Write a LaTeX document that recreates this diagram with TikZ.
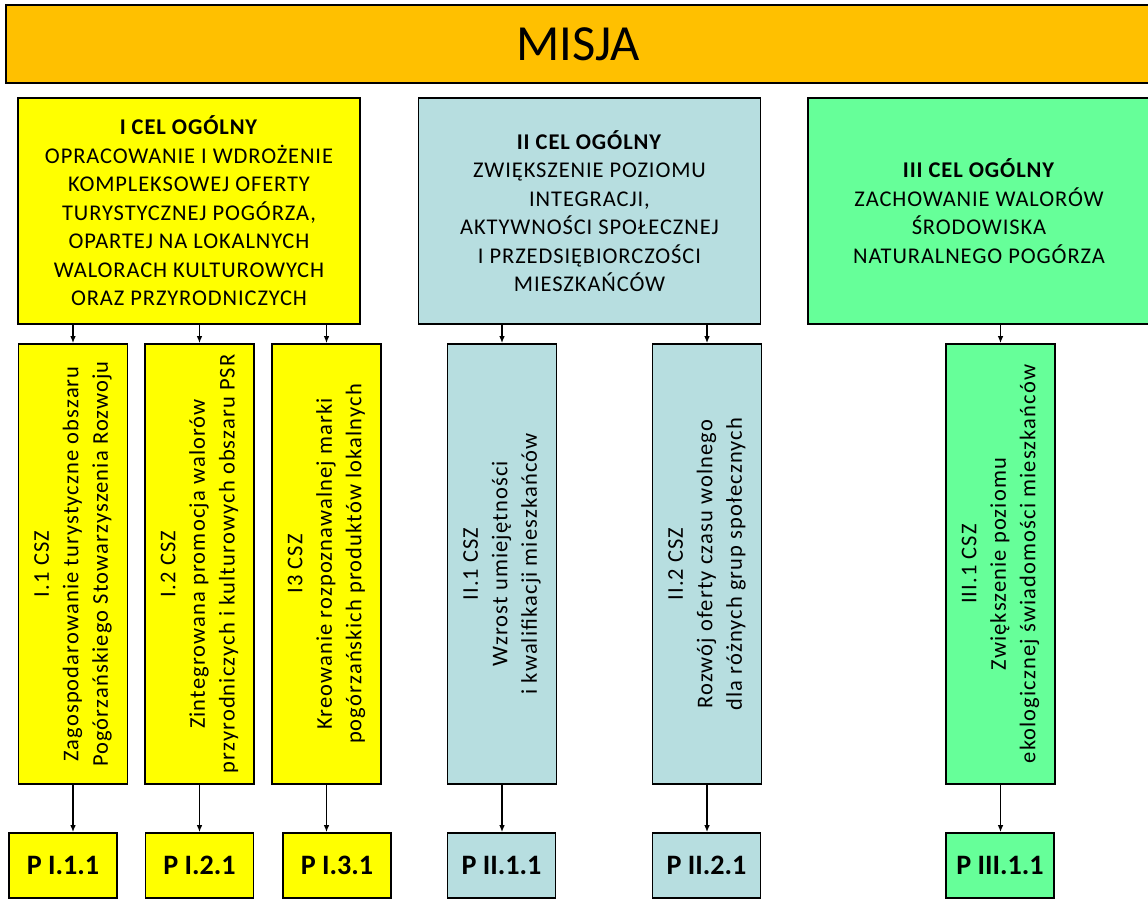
\documentclass[tikz,border=0pt]{standalone}
\usepackage{fontspec}
\setmainfont{Carlito}
\usetikzlibrary{positioning,arrows.meta}

\definecolor{misjaOrange}{HTML}{FFC000}
\definecolor{celYellow}{HTML}{FFFF00}
\definecolor{celBlue}{HTML}{B7DEE0}
\definecolor{celGreen}{HTML}{66FF99}

\begin{document}
\begin{tikzpicture}[
  box/.style={rectangle, draw=black, line width=1.2pt, inner sep=0pt, text centered},
  celbox/.style={box, minimum width=8.55cm, minimum height=5.65cm, align=center,
    font=\fontsize{16}{20.3}\selectfont\addfontfeature{LetterSpace=4}},
  cszbox/.style={box, minimum width=2.73cm, minimum height=11cm},
  csztext/.style={rotate=90, align=center,
    font=\fontsize{16}{21}\selectfont\addfontfeature{LetterSpace=5}},
  projbox/.style={box, minimum width=2.7cm, minimum height=1.625cm,
    font=\fontsize{20}{24}\selectfont\bfseries},
  arr/.style={-{Latex[length=5pt,width=4pt]}, line width=1.3pt}
]
\useasboundingbox (0,0) rectangle (28.7,-22.525);

% Misja
\node (misja) [box, fill=misjaOrange, minimum width=28.6cm, minimum height=1.95cm,
  font=\fontsize{36}{40}\selectfont] at (14.45,-1.1) {MISJA};

% Cele ogólne
\node (c1) [celbox, fill=celYellow] at (4.725,-5.275) {\textbf{I CEL OGÓLNY}\\OPRACOWANIE I WDROŻENIE\\KOMPLEKSOWEJ OFERTY\\TURYSTYCZNEJ POGÓRZA,\\OPARTEJ NA LOKALNYCH\\WALORACH KULTUROWYCH\\ORAZ PRZYRODNICZYCH};
\node (c2) [celbox, fill=celBlue] at (14.7375,-5.275) {\textbf{II CEL OGÓLNY}\\ZWIĘKSZENIE POZIOMU\\INTEGRACJI,\\AKTYWNOŚCI SPOŁECZNEJ\\I PRZEDSIĘBIORCZOŚCI\\MIESZKAŃCÓW};
\node (c3) [celbox, fill=celGreen] at (24.475,-5.275) {\textbf{III CEL OGÓLNY}\\ZACHOWANIE WALORÓW\\ŚRODOWISKA\\NATURALNEGO POGÓRZA};

% Cele szczegółowe
\node (s11) [cszbox, fill=celYellow] at (1.825,-14.1) {};
\node (s12) [cszbox, fill=celYellow] at (4.9875,-14.1) {};
\node (s13) [cszbox, fill=celYellow] at (8.1625,-14.1) {};
\node (s21) [cszbox, fill=celBlue] at (12.55,-14.1) {};
\node (s22) [cszbox, fill=celBlue] at (17.675,-14.1) {};
\node (s31) [cszbox, fill=celGreen] at (25.0125,-14.1) {};

\node (t11) [csztext] at (s11) {I.1 CSZ\\Zagospodarowanie turystyczne obszaru\\Pogórzańskiego Stowarzyszenia Rozwoju};
\node (t12) [csztext] at (s12) {I.2 CSZ\\Zintegrowana promocja walorów\\przyrodniczych i kulturowych obszaru PSR};
\node (t13) [csztext] at (s13) {I3 CSZ\\Kreowanie rozpoznawalnej marki\\pogórzańskich produktów lokalnych};
\node (t21) [csztext] at (s21) {II.1 CSZ\\Wzrost umiejętności\\i kwalifikacji mieszkańców};
\node (t22) [csztext] at (s22) {II.2 CSZ\\Rozwój oferty czasu wolnego\\dla różnych grup społecznych};
\node (t31) [csztext] at (s31) {III.1 CSZ\\Zwiększenie poziomu\\ekologicznej świadomości mieszkańców};

% Projekty
\node (p11) [projbox, fill=celYellow] at (1.575,-21.6375) {P I.1.1};
\node (p12) [projbox, fill=celYellow] at (4.9875,-21.6375) {P I.2.1};
\node (p13) [projbox, fill=celYellow] at (8.425,-21.6375) {P I.3.1};
\node (p21) [projbox, fill=celBlue] at (12.5375,-21.6375) {P II.1.1};
\node (p22) [projbox, fill=celBlue] at (17.6625,-21.6375) {P II.2.1};
\node (p31) [projbox, fill=celGreen] at (25.0,-21.6375) {P III.1.1};

\foreach \c/\s in {c1/s11, c1/s12, c1/s13, c2/s21, c2/s22, c3/s31}
  \draw[arr] (\c.south -| \s.north) -- (\s.north);
\foreach \s/\p in {s11/p11, s12/p12, s13/p13, s21/p21, s22/p22, s31/p31}
  \draw[arr] (\s.south) -- (\s.south |- \p.north);

\end{tikzpicture}
\end{document}
